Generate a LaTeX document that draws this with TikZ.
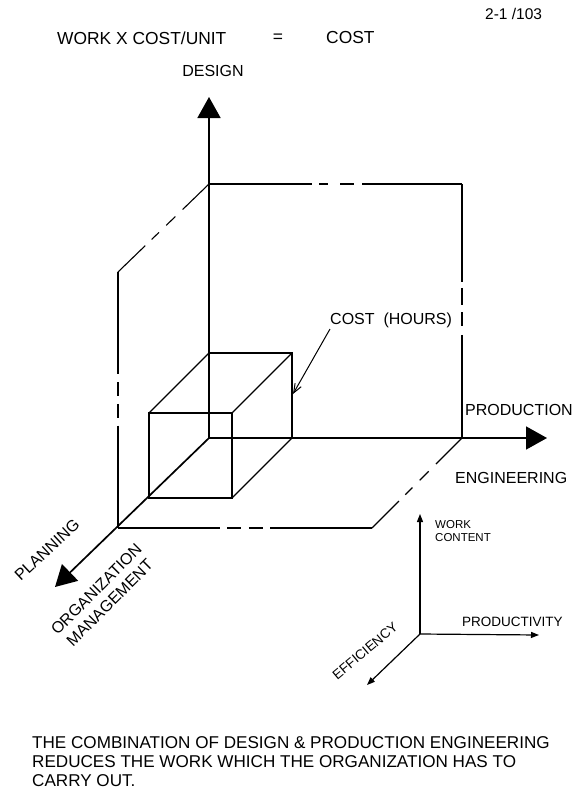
\documentclass[tikz,border=0pt]{standalone}
\usepackage{fontspec}
\setmainfont{Liberation Sans}
\usetikzlibrary{arrows.meta,calc}
\begin{document}
\begin{tikzpicture}[x=1pt,y=-1pt,
  pl/.style={line width=1.1pt},
  ax/.style={line width=1.7pt},
  bigarrow/.style={ax,-{Triangle[length=21pt,width=23pt]}},
  smallarrow/.style={line width=1.2pt,-{Triangle[length=8pt,width=6pt]}},
  lbl/.style={font=\fontsize{16}{19}\selectfont, inner sep=0pt},
  ttl/.style={font=\fontsize{17.4}{20}\selectfont, inner sep=0pt},
  smlbl/.style={font=\fontsize{13.5}{16}\selectfont, inner sep=0pt},
]
\useasboundingbox (0,0) rectangle (574,793);
% main axes points
\coordinate (O) at (209,438);
\coordinate (Dtip) at (209,97);
\coordinate (Ptip) at (547,438);
\coordinate (Ltip) at (55,587);
% planes
\coordinate (B1) at (209,184);
\coordinate (B2) at (462,184);
\coordinate (B3) at (462,438);
\coordinate (L1) at (118,272);
\coordinate (L2) at (118,528);
\coordinate (F1) at (372,528);
% box
\coordinate (C1) at (209,353);
\coordinate (C2) at (292,353);
\coordinate (C3) at (292,438);
\coordinate (E1) at (149,413);
\coordinate (E2) at (232,413);
\coordinate (E3) at (232,498);
\coordinate (E4) at (149,498);

% dashed plane edges
\foreach \a/\b in {B1/B2}{
  \draw[pl] (\a) -- ($(\a)!0.407!(\b)$);
  \draw[pl] ($(\a)!0.435!(\b)$) -- ($(\a)!0.47!(\b)$);
  \draw[pl] ($(\a)!0.518!(\b)$) -- ($(\a)!0.573!(\b)$);
  \draw[pl] ($(\a)!0.605!(\b)$) -- (\b);
}
\foreach \a/\b in {B2/B3}{
  \draw[pl] (\a) -- ($(\a)!0.386!(\b)$);
  \draw[pl] ($(\a)!0.409!(\b)$) -- ($(\a)!0.476!(\b)$);
  \draw[pl] ($(\a)!0.504!(\b)$) -- ($(\a)!0.559!(\b)$);
  \draw[pl] ($(\a)!0.594!(\b)$) -- (\b);
}
\foreach \a/\b in {L1/B1, F1/B3}{
  \draw[pl] (\a) -- ($(\a)!0.30!(\b)$);
  \draw[pl] ($(\a)!0.37!(\b)$) -- ($(\a)!0.45!(\b)$);
  \draw[pl] ($(\a)!0.53!(\b)$) -- ($(\a)!0.63!(\b)$);
  \draw[pl] ($(\a)!0.71!(\b)$) -- (\b);
}
\foreach \a/\b in {L1/L2, L2/F1}{
  \draw[pl] (\a) -- ($(\a)!0.40!(\b)$);
  \draw[pl] ($(\a)!0.43!(\b)$) -- ($(\a)!0.485!(\b)$);
  \draw[pl] ($(\a)!0.515!(\b)$) -- ($(\a)!0.57!(\b)$);
  \draw[pl] ($(\a)!0.60!(\b)$) -- (\b);
}

% box
\draw[pl] (E1) -- (E2) -- (E3) -- (E4) -- cycle;
\draw[pl] (C1) -- (C2) -- (C3);
\draw[pl] (E1) -- (C1);
\draw[pl] (E2) -- (C2);
\draw[pl] (E3) -- (C3);

% axes
\draw[bigarrow] (O) -- (Dtip);
\draw[bigarrow] (O) -- (Ptip);
\draw[bigarrow] (O) -- (Ltip);

% cost leader
\node[lbl, anchor=west] (cost) at (330,320) {COST\ \ (HOURS)};
\coordinate (lead) at (330,329);
\coordinate (costend) at (293,394);
\draw[line width=1pt,-{Straight Barb[length=9pt,width=7pt]}] (lead) -- (costend);

% labels
\node[font=\fontsize{15.5}{18}\selectfont, inner sep=0pt, anchor=west] (ref) at (485,14) {2-1 /103};
\node[ttl, anchor=west] (work) at (57,38) {WORK X COST/UNIT};
\node[ttl] (eq) at (278,38) {=};
\node[ttl, anchor=west] (costt) at (326,38) {COST};
\node[lbl] (design) at (213,71) {DESIGN};
\node[lbl, anchor=west] (prod) at (465,410) {PRODUCTION};
\node[lbl, anchor=west] (eng) at (455,478) {ENGINEERING};
\node[lbl, rotate=43] (plan) at (47,550) {PLANNING};
\node[lbl, rotate=45, align=center] (org) at (103,596) {ORGANIZATION\\MANAGEMENT};

% small axes
\coordinate (S) at (420,634);
\coordinate (SU) at (420,514);
\coordinate (SR) at (539,635);
\coordinate (SD) at (367,685);
\draw[smallarrow] (S) -- (SU);
\draw[smallarrow] (S) -- (SR);
\draw[smallarrow] (S) -- (SD);
\node[font=\fontsize{11.5}{13}\selectfont, inner sep=0pt, align=left, anchor=west] (wc) at (435,531) {WORK\\CONTENT};
\node[smlbl, anchor=west] (pty) at (462,622) {PRODUCTIVITY};
\node[smlbl, rotate=40] (eff) at (365,651) {EFFICIENCY};

% caption
\node[font=\fontsize{17.1}{19}\selectfont, inner sep=0pt, align=left, anchor=west] (cap) at (32,762)
  {THE COMBINATION OF DESIGN \& PRODUCTION ENGINEERING\\REDUCES THE WORK WHICH THE ORGANIZATION HAS TO\\CARRY OUT.};
\end{tikzpicture}
\end{document}
